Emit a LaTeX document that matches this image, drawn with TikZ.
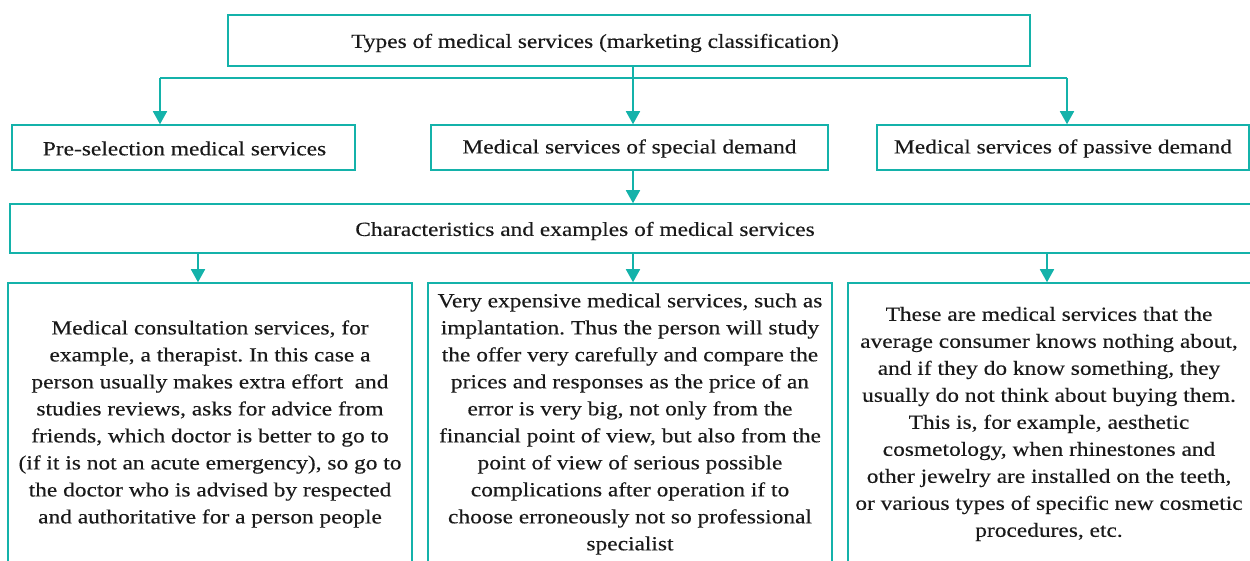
\documentclass[tikz,border=0pt]{standalone}
\usepackage{fontspec}
\setmainfont[FakeStretch=1.17,FakeBold=0.3]{Liberation Serif}
\usetikzlibrary{arrows.meta}
\definecolor{tealc}{RGB}{20,178,170}
\definecolor{txt}{RGB}{26,26,26}
\frenchspacing
\tikzset{
  box/.style={draw=tealc, line width=1.5pt, inner sep=0pt},
  lbl/.style={text=txt, font=\fontsize{20}{27}\selectfont, align=center, inner sep=0pt},
  conn/.style={draw=tealc, line width=1.6pt, -{Triangle[length=13pt,width=14pt]}},
  plain/.style={draw=tealc, line width=1.6pt},
}
\begin{document}
\begin{tikzpicture}[x=1pt,y=-1pt]
\clip (0,0) rectangle (1250,561);
% top
\node[box, minimum width=802pt, minimum height=51pt] (top) at (629,40.5) {};
\node[lbl] (toptxt) at (595,43) {Types of medical services (marketing classification)};
% second row
\node[box, minimum width=343pt, minimum height=45pt] (b1) at (183.5,147.5) {};
\node[lbl] (b1t) at (184.5,148.5) {Pre-selection medical services};
\node[box, minimum width=397pt, minimum height=45pt] (b2) at (629.5,147.5) {};
\node[lbl] (b2t) at (629.5,148.5) {Medical services of special demand};
\node[box, minimum width=372pt, minimum height=45pt] (b3) at (1063,147.5) {};
\node[lbl] (b3t) at (1063,148.5) {Medical services of passive demand};
% characteristics
\node[box, minimum width=1260pt, minimum height=49pt] (ch) at (640,228.5) {};
\node[lbl] (cht) at (585,231) {Characteristics and examples of medical services};
% bottom boxes
\node[box, minimum width=404pt, minimum height=280pt] (c1) at (210,423) {};
\node[lbl] (c1t) at (210,424) {Medical consultation services, for\\example, a therapist. In this case a\\person usually makes extra effort\ \ and\\studies reviews, asks for advice from\\friends, which doctor is better to go to\\(if it is not an acute emergency), so go to\\the doctor who is advised by respected\\and authoritative for a person people};
\node[box, minimum width=404pt, minimum height=280pt] (c2) at (630,423) {};
\node[lbl] (c2t) at (630,424) {Very expensive medical services, such as\\implantation. Thus the person will study\\the offer very carefully and compare the\\prices and responses as the price of an\\error is very big, not only from the\\financial point of view, but also from the\\point of view of serious possible\\complications after operation if to\\choose erroneously not so professional\\specialist};
\node[box, minimum width=410pt, minimum height=280pt] (c3) at (1053,423) {};
\node[lbl] (c3t) at (1049,424) {These are medical services that the\\average consumer knows nothing about,\\and if they do know something, they\\usually do not think about buying them.\\This is, for example, aesthetic\\cosmetology, when rhinestones and\\other jewelry are installed on the teeth,\\or various types of specific new cosmetic\\procedures, etc.};
% connectors
\coordinate (hl) at (160,78);
\coordinate (hr) at (1067,78);
\coordinate (hm) at (633,78);
\draw[plain] (hl) -- (hr);
\draw[conn] (top.south -| hm) -- (b2.north -| hm);
\draw[conn] (hl) -- (b1.north -| hl);
\draw[conn] (hr) -- (b3.north -| hr);
\draw[conn] (b2.south -| hm) -- (ch.north -| hm);
\coordinate (a1) at (198,0);
\coordinate (a3) at (1047,0);
\draw[conn] (ch.south -| a1) -- (c1.north -| a1);
\draw[conn] (ch.south -| hm) -- (c2.north -| hm);
\draw[conn] (ch.south -| a3) -- (c3.north -| a3);
\end{tikzpicture}
\end{document}
